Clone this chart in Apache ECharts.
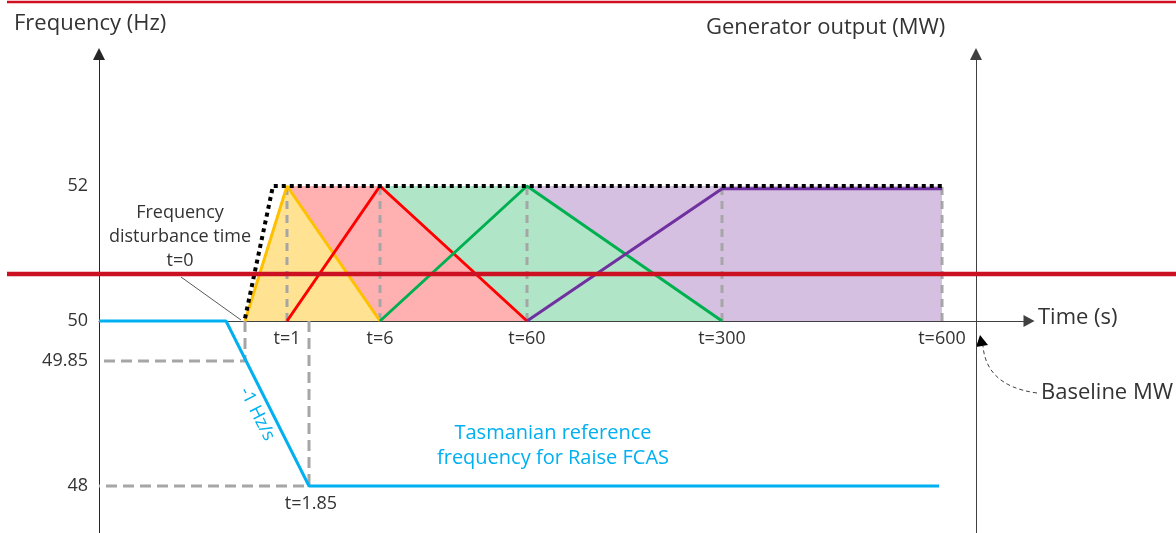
<!DOCTYPE html>
<html><head><meta charset="utf-8">
<script src="https://cdn.jsdelivr.net/npm/echarts@6/dist/echarts.min.js"></script>
<style>html,body{margin:0;padding:0;background:#fff}#c{width:1176px;height:533px}</style>
</head><body><div id="c"></div><script>
// ---- schematic data (diagram units; not to scale in the original) ----
const timeLabels = ['t=0', 't=1', 't=6', 't=60', 't=300', 't=600'];
const timePos    = [0, 42, 135, 282, 477, 697];          // position of each time mark along the time axis
const freqLabels = ['52', '50', '49.85', '48'];
const freqPos    = [135, 0, -40, -165];                   // position of each frequency level on the vertical axis
const fullOutput = 135;                                   // full FCAS output level (same height as 52 Hz)

// FCAS services: times they use, and output as fraction of full output
const raise6secT  = ['t=0', 't=1', 't=6'];     const raise6secMW  = [0, 1, 0];
const raise60secT = ['t=1', 't=6', 't=60'];    const raise60secMW = [0, 1, 0];
const raise5minT  = ['t=6', 't=60', 't=300'];  const raise5minMW  = [0, 1, 0];
const raise10minT = ['t=60', 't=300', 't=600'];const raise10minMW = [0, 0.98, 0.98];

// total envelope (dotted)
const envelopeX = [0, 28, 697];
const envelopeY = [0.02, 1, 1];

// Tasmanian reference frequency trace (Hz)
const freqTraceX  = [-146, -19, 64, 694];
const freqTraceHz = ['50', '50', '48', '48'];

// ---- helpers ----
const tp = t => timePos[timeLabels.indexOf(t)];
const fp = f => freqPos[freqLabels.indexOf(f)];
const svc = (T, M) => T.map((t, i) => [tp(t), M[i] * fullOutput]);

const yellow = svc(raise6secT, raise6secMW);
const red    = svc(raise60secT, raise60secMW);
const green  = svc(raise5minT, raise5minMW);
const purple = svc(raise10minT, raise10minMW);

const pinkArea   = [[tp('t=1'), fullOutput], [tp('t=6'), fullOutput], [tp('t=60'), 0]];
const greenArea  = [[tp('t=6'), fullOutput], [tp('t=60'), fullOutput], [tp('t=300'), 0]];
const purpleArea = [[tp('t=60'), fullOutput], [tp('t=600'), fullOutput]];

const envelope = envelopeX.map((x, i) => [x, envelopeY[i] * fullOutput]);
const freqTrace = freqTraceX.map((x, i) => [x, fp(freqTraceHz[i])]);

const guides = [];
timeLabels.slice(1).forEach(t => { guides.push([tp(t), 0], [tp(t), fullOutput], [tp(t), '-']); });
const guideLow = [[0, 0], [0, fp('49.85')], [-146, fp('49.85')], [-146, '-'],
                  [64, 0], [64, fp('48')], [-146, fp('48')]];

const FONT = 'Open Sans';
const chart = echarts.init(document.getElementById('c'), null, {renderer: 'canvas'});
const lineS = (data, color, width, z, extra) => Object.assign({
  type: 'line', data, symbol: 'none', silent: true, z, clip: false,
  lineStyle: {color, width}, animation: false
}, extra || {});
const areaS = (data, color, z) => ({
  type: 'line', data, symbol: 'none', silent: true, z, animation: false,
  lineStyle: {width: 0}, areaStyle: {color, opacity: 1}
});

chart.setOption({
  animation: false,
  grid: {left: 99, top: 54, width: 930, bottom: 0, containLabel: false, outerBoundsMode: 'none'},
  xAxis: {
    type: 'value', min: -146, max: 784, position: 'bottom', offset: -212,
    axisLine: {show: true, onZero: false, symbol: ['none', 'triangle'], symbolSize: [12, 11],
               lineStyle: {color: '#404040', width: 1}},
    axisTick: {show: false}, splitLine: {show: false},
    axisLabel: {customValues: timePos.slice(1), formatter: v => timeLabels[timePos.indexOf(v)],
                color: '#333', fontSize: 18, fontFamily: FONT, margin: 9}
  },
  yAxis: [{
    type: 'value', min: -212, max: 267,
    axisLine: {show: true, onZero: false, symbol: ['none', 'triangle'], symbolSize: [12, 12],
               lineStyle: {color: '#262626', width: 1}},
    axisTick: {show: false}, splitLine: {show: false},
    axisLabel: {customValues: freqPos, formatter: v => freqLabels[freqPos.indexOf(v)],
                color: '#333', fontSize: 18, fontFamily: FONT, margin: 11}
  }, {
    type: 'value', min: -212, max: 267, position: 'right', offset: -53,
    axisLine: {show: true, onZero: false, symbol: ['none', 'triangle'], symbolSize: [12, 12],
               lineStyle: {color: '#404040', width: 1}},
    axisTick: {show: false}, splitLine: {show: false}, axisLabel: {show: false}
  }],
  series: [
    areaS(purpleArea, '#d5c0e2', 1),
    areaS(greenArea, '#b1e5c8', 2),
    areaS(pinkArea, '#ffb1b1', 3),
    areaS(yellow, '#ffe393', 4),
    lineS(guides, '#a6a6a6', 3, 5, {lineStyle: {color: '#a6a6a6', width: 3, type: [8, 6]}}),
    lineS(guideLow, '#a6a6a6', 3, 5, {lineStyle: {color: '#a6a6a6', width: 3, type: [11, 6]}}),
    lineS(yellow, '#ffc000', 3, 6),
    lineS(red, '#ff0000', 3, 6),
    lineS(green, '#00b050', 3, 6),
    lineS(purple, '#7030a0', 3, 6),
    lineS(envelope, '#000', 4, 7, {lineStyle: {color: '#000', width: 4, type: [4, 4], cap: 'butt'}}),
    lineS(freqTrace, '#00b0f0', 3, 7)
  ],
  graphic: [
    {type: 'text', x: 14, y: 24, style: {text: 'Frequency (Hz)', fontSize: 22, fontFamily: FONT, fill: '#333', verticalAlign: 'middle'}},
    {type: 'text', x: 706, y: 28, style: {text: 'Generator output (MW)', fontSize: 22, fontFamily: FONT, fill: '#333', verticalAlign: 'middle'}},
    {type: 'text', x: 1038, y: 318, style: {text: 'Time (s)', fontSize: 22, fontFamily: FONT, fill: '#333', verticalAlign: 'middle'}},
    {type: 'text', x: 1041, y: 393, style: {text: 'Baseline MW', fontSize: 22, fontFamily: FONT, fill: '#333', verticalAlign: 'middle'}},
    {type: 'text', x: 180, y: 237, style: {text: 'Frequency\ndisturbance time\nt=0', fontSize: 18, lineHeight: 24, fontFamily: FONT, fill: '#333', align: 'center', verticalAlign: 'middle'}},
    {type: 'line', shape: {x1: 181, y1: 277, x2: 241, y2: 320}, style: {stroke: '#595959', lineWidth: 1}},
    {type: 'text', x: 311, y: 504, style: {text: 't=1.85', fontSize: 18, fontFamily: FONT, fill: '#333', align: 'center', verticalAlign: 'middle'}},
    {type: 'text', x: 553, y: 446, style: {text: 'Tasmanian reference\nfrequency for Raise FCAS', fontSize: 20, lineHeight: 25, fontFamily: FONT, fill: '#00b0f0', align: 'center', verticalAlign: 'middle'}},
    {type: 'text', x: 257, y: 414, rotation: -1.1, style: {text: '-1 Hz/s', fontSize: 18, fontFamily: FONT, fill: '#00b0f0', align: 'center', verticalAlign: 'middle'}},
    {type: 'bezierCurve', shape: {x1: 1037, y1: 393, cpx1: 1000, cpy1: 388, cpx2: 985, cpy2: 370, x2: 983, y2: 346},
     style: {stroke: '#404040', lineWidth: 1, lineDash: [4, 3], fill: null}},
    {type: 'polygon', shape: {points: [[980, 335], [976, 347], [988, 345]]}, style: {fill: '#000'}},
    {type: 'line', z: 100, shape: {x1: 7, y1: 2, x2: 1176, y2: 2}, style: {stroke: '#d01020', lineWidth: 2.5}},
    {type: 'line', z: 100, shape: {x1: 7, y1: 274, x2: 1176, y2: 274}, style: {stroke: '#cc1122', lineWidth: 4.5}}
  ]
});
</script></body></html>
